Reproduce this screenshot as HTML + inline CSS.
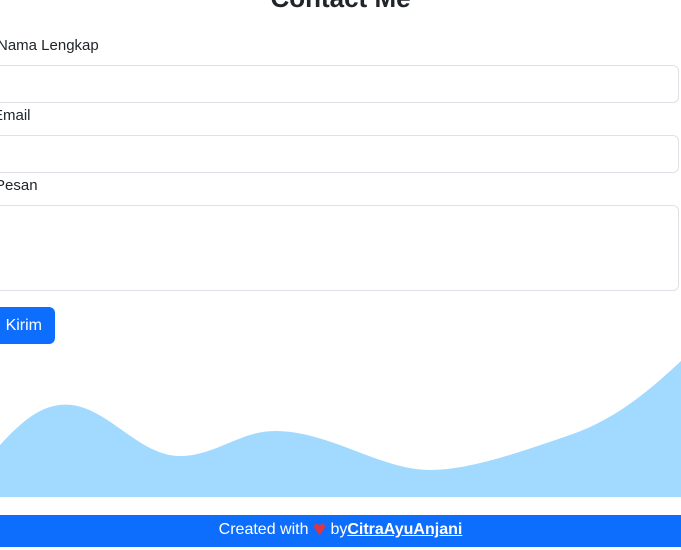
<!DOCTYPE html>
<html><head><meta charset="utf-8"><style>
body{margin:0;width:681px;height:550px;overflow:hidden;background:#fff;font-family:"Liberation Sans",sans-serif;color:#212529;position:relative}
.a{position:absolute}
h2{position:absolute;margin:0;left:0;width:681px;text-align:center;top:-17px;font-size:26px;font-weight:bold;line-height:30px}
label{position:absolute;left:-3px;font-size:15px;line-height:18px}
.inp{position:absolute;left:-10px;width:689px;border:1px solid #dee2e6;border-radius:6px;background:#fff;box-sizing:border-box}
.btn{position:absolute;left:-12px;top:307px;width:67px;height:37px;background:#0d6efd;border-radius:6px;color:#fff;font-size:16px;line-height:37px;text-align:right;box-sizing:border-box;padding-right:13px}
footer{position:absolute;left:0;top:515px;width:681px;height:32px;background:#0d6efd;color:#fff;text-align:center;font-size:16px;line-height:28px}
footer a{color:#fff;font-weight:bold;text-decoration:underline}
.heart{color:#dc3545;font-size:22px;vertical-align:-2px}
</style></head><body>
<h2>Contact Me</h2>
<label style="top:37px">Nama Lengkap</label>
<div class="inp" style="top:65px;height:38px"></div>
<label style="top:107px;left:-7px">Email</label>
<div class="inp" style="top:135px;height:38px"></div>
<label style="top:177px;left:-5px">Pesan</label>
<div class="inp" style="top:205px;height:86px"></div>
<div class="btn">Kirim</div>
<svg class="a" style="left:0;top:0" width="681" height="550">
<path d="M0,445 C25,418 45,402 72,405 C110,410 140,456 180,456 C215,456 240,431 275,431 C330,431 380,470 430,470 C470,470 520,452 570,435 C615,420 650,390 681,361 L681,497 L0,497 Z" fill="#a2d9ff"/>
</svg>
<footer>Created with <span class="heart">♥</span> by<a>CitraAyuAnjani</a></footer>
</body></html>
